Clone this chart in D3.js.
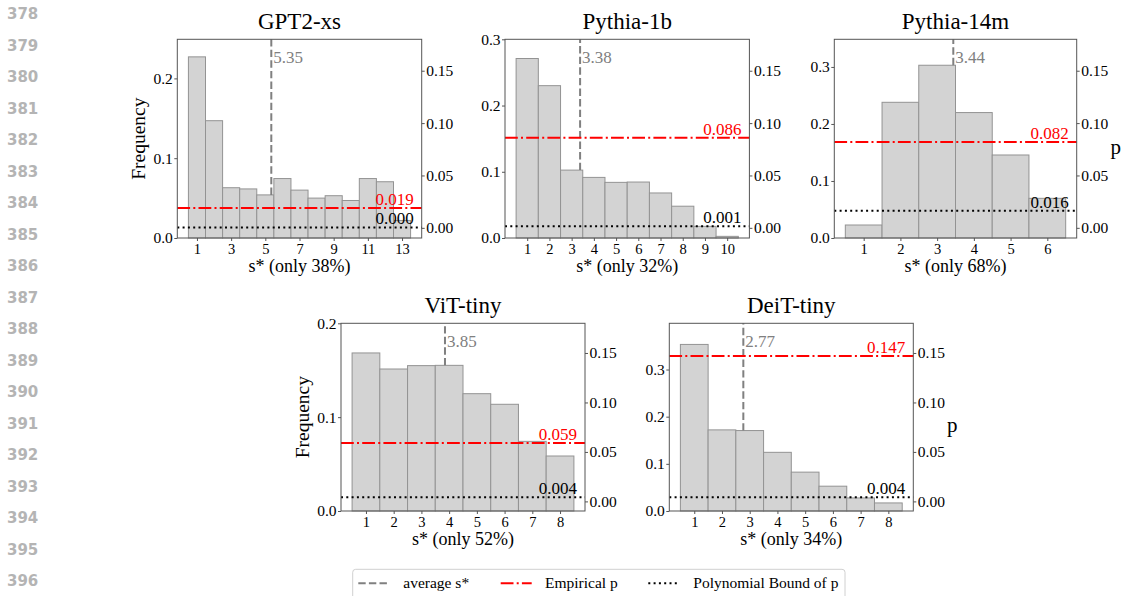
<!DOCTYPE html>
<html>
<head>
<meta charset="utf-8">
<script src="https://cdn.jsdelivr.net/npm/d3@7"></script>
<style>
  body { margin: 0; background: #fff; }
  svg { display: block; }
</style>
</head>
<body>
<svg id="chart" width="1124" height="596"></svg>
<script>
// data
const models = ["GPT2-xs", "Pythia-1b", "Pythia-14m", "ViT-tiny", "DeiT-tiny"];
const coverage = ["38%", "32%", "68%", "52%", "34%"];
const gpt2Freq = [0.227, 0.147, 0.063, 0.0615, 0.054, 0.0745, 0.060, 0.050, 0.053, 0.047, 0.0745, 0.0705, 0.022];
const pythia1bFreq = [0.271, 0.230, 0.1025, 0.0915, 0.084, 0.0845, 0.068, 0.048, 0.0176, 0.0025];
const pythia14mFreq = [0.0228, 0.238, 0.303, 0.220, 0.1456, 0.0696];
const vitFreq = [0.1684, 0.1513, 0.1549, 0.1552, 0.125, 0.1137, 0.0742, 0.0586];
const deitFreq = [0.3532, 0.172, 0.1706, 0.1244, 0.0824, 0.0526, 0.0277, 0.0171];
const meanS = [5.35, 3.38, 3.44, 3.85, 2.77];
const empiricalP = [0.019, 0.086, 0.082, 0.059, 0.147];
const boundP = [0.0004, 0.0014, 0.0163, 0.0042, 0.0042];
const freqMax = [0.249, 0.3, 0.3485, 0.2, 0.398];
const freqTicks = [[0, 0.1, 0.2], [0, 0.1, 0.2, 0.3], [0, 0.1, 0.2, 0.3], [0, 0.1, 0.2], [0, 0.1, 0.2, 0.3]];
const pTicks = [0, 0.05, 0.10, 0.15];
const pDomain = [-0.0097, 0.180];
const gpt2XTicks = [1, 3, 5, 7, 9, 11, 13];
const lineNumbers = d3.range(378, 397);
const legendItems = ["average s*", "Empirical p", "Polynomial Bound of p"];

const freqs = [gpt2Freq, pythia1bFreq, pythia14mFreq, vitFreq, deitFreq];

const svg = d3.select("#chart");
const serif = "'Liberation Serif', 'Times New Roman', serif";

// line numbers down the margin
svg.append("g").selectAll("text")
  .data(lineNumbers)
  .enter().append("text")
  .attr("x", 7)
  .attr("y", (d, i) => 19 + i * 31.5)
  .attr("font-family", "'DejaVu Sans', sans-serif")
  .attr("font-weight", "bold")
  .attr("font-size", 15)
  .attr("fill", "#b4b4b4")
  .text(d => d);

// panel boxes
const boxes = [
  { x: 177.3, y: 39.3, w: 244.4, h: 198.7 },
  { x: 505, y: 39.3, w: 244.4, h: 198.7 },
  { x: 834.3, y: 39.3, w: 242.4, h: 198.7 },
  { x: 341, y: 323.3, w: 244, h: 187.7 },
  { x: 669.3, y: 323.3, w: 244, h: 187.7 }
];

function drawPanel(i) {
  const b = boxes[i];
  const vals = freqs[i];
  const n = vals.length;
  const g = svg.append("g").attr("transform", `translate(${b.x},${b.y})`);

  const x = d3.scaleLinear().domain([0.5 - 0.05 * n, n + 0.5 + 0.05 * n]).range([0, b.w]);
  const y = d3.scaleLinear().domain([0, freqMax[i]]).range([b.h, 0]);
  const yp = d3.scaleLinear().domain(pDomain).range([b.h, 0]);

  // bars
  g.selectAll("rect.bar")
    .data(vals)
    .enter().append("rect")
    .attr("class", "bar")
    .attr("x", (d, k) => x(k + 0.5))
    .attr("width", x(1) - x(0))
    .attr("y", d => y(d))
    .attr("height", d => b.h - y(d))
    .attr("fill", "#d3d3d3")
    .attr("stroke", "#939393")
    .attr("stroke-width", 1);

  // mean s* line, from the bar top up to the frame
  const binIdx = Math.round(meanS[i]) - 1;
  g.append("line")
    .attr("x1", x(meanS[i])).attr("x2", x(meanS[i]))
    .attr("y1", y(vals[binIdx])).attr("y2", 0)
    .attr("stroke", "#808080")
    .attr("stroke-width", 2)
    .attr("stroke-dasharray", "7.4,3.2");
  g.append("text")
    .attr("x", x(meanS[i]) + 2)
    .attr("y", 23.5)
    .attr("font-family", serif)
    .attr("font-size", 17)
    .attr("fill", "#808080")
    .text(meanS[i].toFixed(2));

  // empirical p
  g.append("line")
    .attr("x1", 0).attr("x2", b.w)
    .attr("y1", yp(empiricalP[i])).attr("y2", yp(empiricalP[i]))
    .attr("stroke", "red")
    .attr("stroke-width", 2)
    .attr("stroke-dasharray", "12.8,3.2,2,3.2");
  g.append("text")
    .attr("x", b.w - 8)
    .attr("y", yp(empiricalP[i]) - 3)
    .attr("text-anchor", "end")
    .attr("font-family", serif)
    .attr("font-size", 17)
    .attr("fill", "red")
    .text(empiricalP[i].toFixed(3));

  // polynomial bound
  g.append("line")
    .attr("x1", 0).attr("x2", b.w)
    .attr("y1", yp(boundP[i])).attr("y2", yp(boundP[i]))
    .attr("stroke", "black")
    .attr("stroke-width", 2)
    .attr("stroke-dasharray", "2,3.3");
  g.append("text")
    .attr("x", b.w - 8)
    .attr("y", yp(boundP[i]) - 3)
    .attr("text-anchor", "end")
    .attr("font-family", serif)
    .attr("font-size", 17)
    .attr("fill", "black")
    .text(boundP[i].toFixed(3));

  // frame
  g.append("rect")
    .attr("width", b.w).attr("height", b.h)
    .attr("fill", "none")
    .attr("stroke", "#555")
    .attr("stroke-width", 1);

  // axes
  const xTicks = i === 0 ? gpt2XTicks : d3.range(1, n + 1);
  const xAxis = g.append("g")
    .attr("transform", `translate(0,${b.h})`)
    .call(d3.axisBottom(x).tickValues(xTicks).tickSize(3).tickPadding(2.5).tickFormat(d3.format("d")));
  const yAxis = g.append("g")
    .call(d3.axisLeft(y).tickValues(freqTicks[i]).tickSize(3).tickPadding(1.5).tickFormat(d3.format(".1f")));
  const pAxis = g.append("g")
    .attr("transform", `translate(${b.w},0)`)
    .call(d3.axisRight(yp).tickValues(pTicks).tickSize(3).tickPadding(1.5).tickFormat(d3.format(".2f")));

  [yAxis, pAxis].forEach(a => {
    a.selectAll(".tick text").attr("font-size", 15.5);
  });
  xAxis.selectAll(".tick text").attr("font-size", 14.5);
  [xAxis, yAxis, pAxis].forEach(a => {
    a.select(".domain").remove();
    a.selectAll(".tick line").attr("stroke", "#555");
    a.selectAll(".tick text")
      .attr("font-family", serif)
      .attr("fill", "black");
  });

  // title and labels
  g.append("text")
    .attr("x", b.w / 2)
    .attr("y", -10)
    .attr("text-anchor", "middle")
    .attr("font-family", serif)
    .attr("font-size", 23)
    .text(models[i]);

  g.append("text")
    .attr("x", b.w / 2)
    .attr("y", b.h + 34.5)
    .attr("text-anchor", "middle")
    .attr("font-family", serif)
    .attr("font-size", 18)
    .text(`s* (only ${coverage[i]})`);

  if (i === 0 || i === 3) {
    g.append("text")
      .attr("transform", `translate(-32,${b.h / 2}) rotate(-90)`)
      .attr("text-anchor", "middle")
      .attr("font-family", serif)
      .attr("font-size", 19.5)
      .text("Frequency");
  }
  if (i === 2 || i === 4) {
    g.append("text")
      .attr("x", b.w + 39)
      .attr("y", b.h / 2 + 15)
      .attr("text-anchor", "middle")
      .attr("font-family", serif)
      .attr("font-size", 21)
      .text("p");
  }
}

models.forEach((m, i) => drawPanel(i));

// legend
const lg = svg.append("g").attr("transform", "translate(352.7,569.3)");
lg.append("rect")
  .attr("width", 492.3).attr("height", 40)
  .attr("rx", 3)
  .attr("fill", "white")
  .attr("stroke", "#d0d0d0");
const handleX = [5.6, 148, 295.6];
const textX = [50.6, 192.3, 340.6];
const handleStyle = [
  { color: "#808080", dash: "7.4,3.2" },
  { color: "red", dash: "12.8,3.2,2,3.2" },
  { color: "black", dash: "2,3.3" }
];
legendItems.forEach((label, k) => {
  lg.append("line")
    .attr("x1", handleX[k]).attr("x2", handleX[k] + 31)
    .attr("y1", 14).attr("y2", 14)
    .attr("stroke", handleStyle[k].color)
    .attr("stroke-width", 2)
    .attr("stroke-dasharray", handleStyle[k].dash);
  lg.append("text")
    .attr("x", textX[k])
    .attr("y", 19)
    .attr("font-family", serif)
    .attr("font-size", 15.5)
    .text(label);
});
</script>
</body>
</html>
